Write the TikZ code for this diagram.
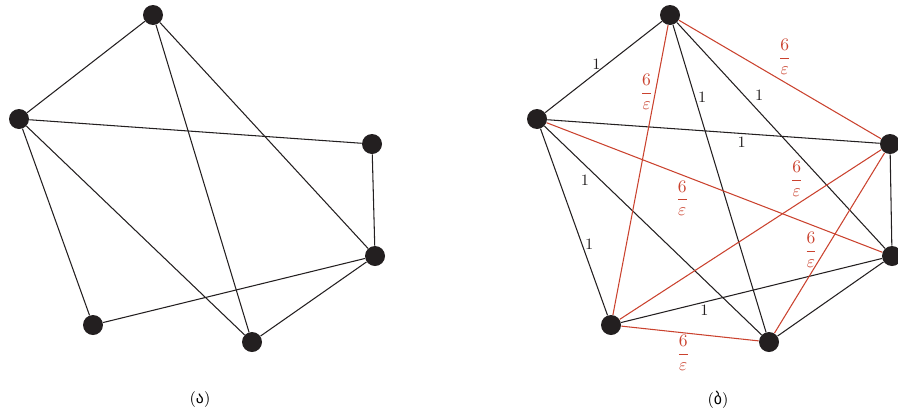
\documentclass[tikz,border=0pt]{standalone}
\usepackage{amsmath,amssymb}
\usepackage{fontspec}
\usepackage{xcolor}
\usepackage{tikz}
\usetikzlibrary{positioning}
\newfontfamily\geofont{DejaVu Sans}
\definecolor{heavyred}{RGB}{202,66,46}
\definecolor{inkblack}{RGB}{35,31,32}
\tikzset{
  vertex/.style={circle,fill=inkblack,minimum size=0.4cm,inner sep=0pt},
  edge/.style={draw=inkblack,line width=0.6pt},
  heavy/.style={draw=heavyred,line width=0.6pt},
  wt/.style={font=\small,inner sep=1.5pt,text=inkblack},
  hwt/.style={font=\normalsize,inner sep=1pt,text=heavyred}
}
\newcommand{\heavyw}{$\dfrac{6}{\varepsilon}$}

\begin{document}
\begin{tikzpicture}[x=0.02cm,y=-0.02cm]
    \useasboundingbox (0,0) rectangle (898,413);
    % left graph
    \node[vertex] (a1) at (153,15) {};
    \node[vertex] (a2) at (19,119) {};
    \node[vertex] (a3) at (372,144) {};
    \node[vertex] (a4) at (375,256) {};
    \node[vertex] (a5) at (93,325) {};
    \node[vertex] (a6) at (252,342) {};
    \foreach \u/\v in {a1/a2,a1/a6,a1/a4,a2/a3,a2/a5,a2/a6,a3/a4,a4/a5,a4/a6}
      \draw[edge] (\u) -- (\v);
    \node[font=\small] (capa) at (200,400) {({\geofont ა})};

    % right graph
    \node[vertex] (b1) at (670,15) {};
    \node[vertex] (b2) at (537,119) {};
    \node[vertex] (b3) at (890,144) {};
    \node[vertex] (b4) at (892,256) {};
    \node[vertex] (b5) at (611,325) {};
    \node[vertex] (b6) at (769,342) {};
    \draw[edge] (b1) -- node[wt,pos=0.56,above] {1} (b2);
    \draw[edge] (b1) -- node[wt,pos=0.235,right] {1} (b6);
    \draw[edge] (b1) -- node[wt,pos=0.36,above right] {1} (b4);
    \draw[edge] (b2) -- node[wt,pos=0.585,below] {1} (b3);
    \draw[edge] (b2) -- node[wt,pos=0.62,right] {1} (b5);
    \draw[edge] (b2) -- node[wt,pos=0.22,below left] {1} (b6);
    \draw[edge] (b3) -- (b4);
    \draw[edge] (b5) -- node[wt,pos=0.32,below] {1} (b4);
    \draw[edge] (b4) -- (b6);
    % heavy edges
    \draw[heavy] (b1) -- node[hwt,pos=0.23,left] {\heavyw} (b5);
    \draw[heavy] (b1) -- node[hwt,pos=0.48,above right] {\heavyw} (b3);
    \draw[heavy] (b2) -- node[hwt,pos=0.43,below left] {\heavyw} (b4);
    \draw[heavy] (b5) -- node[hwt,pos=0.71,above left] {\heavyw} (b3);
    \draw[heavy] (b6) -- node[hwt,pos=0.46,left=3pt] {\heavyw} (b3);
    \draw[heavy] (b5) -- node[hwt,pos=0.45,below] {\heavyw} (b6);
    \node[font=\small] (capb) at (718,400) {({\geofont ბ})};
\end{tikzpicture}
\end{document}
